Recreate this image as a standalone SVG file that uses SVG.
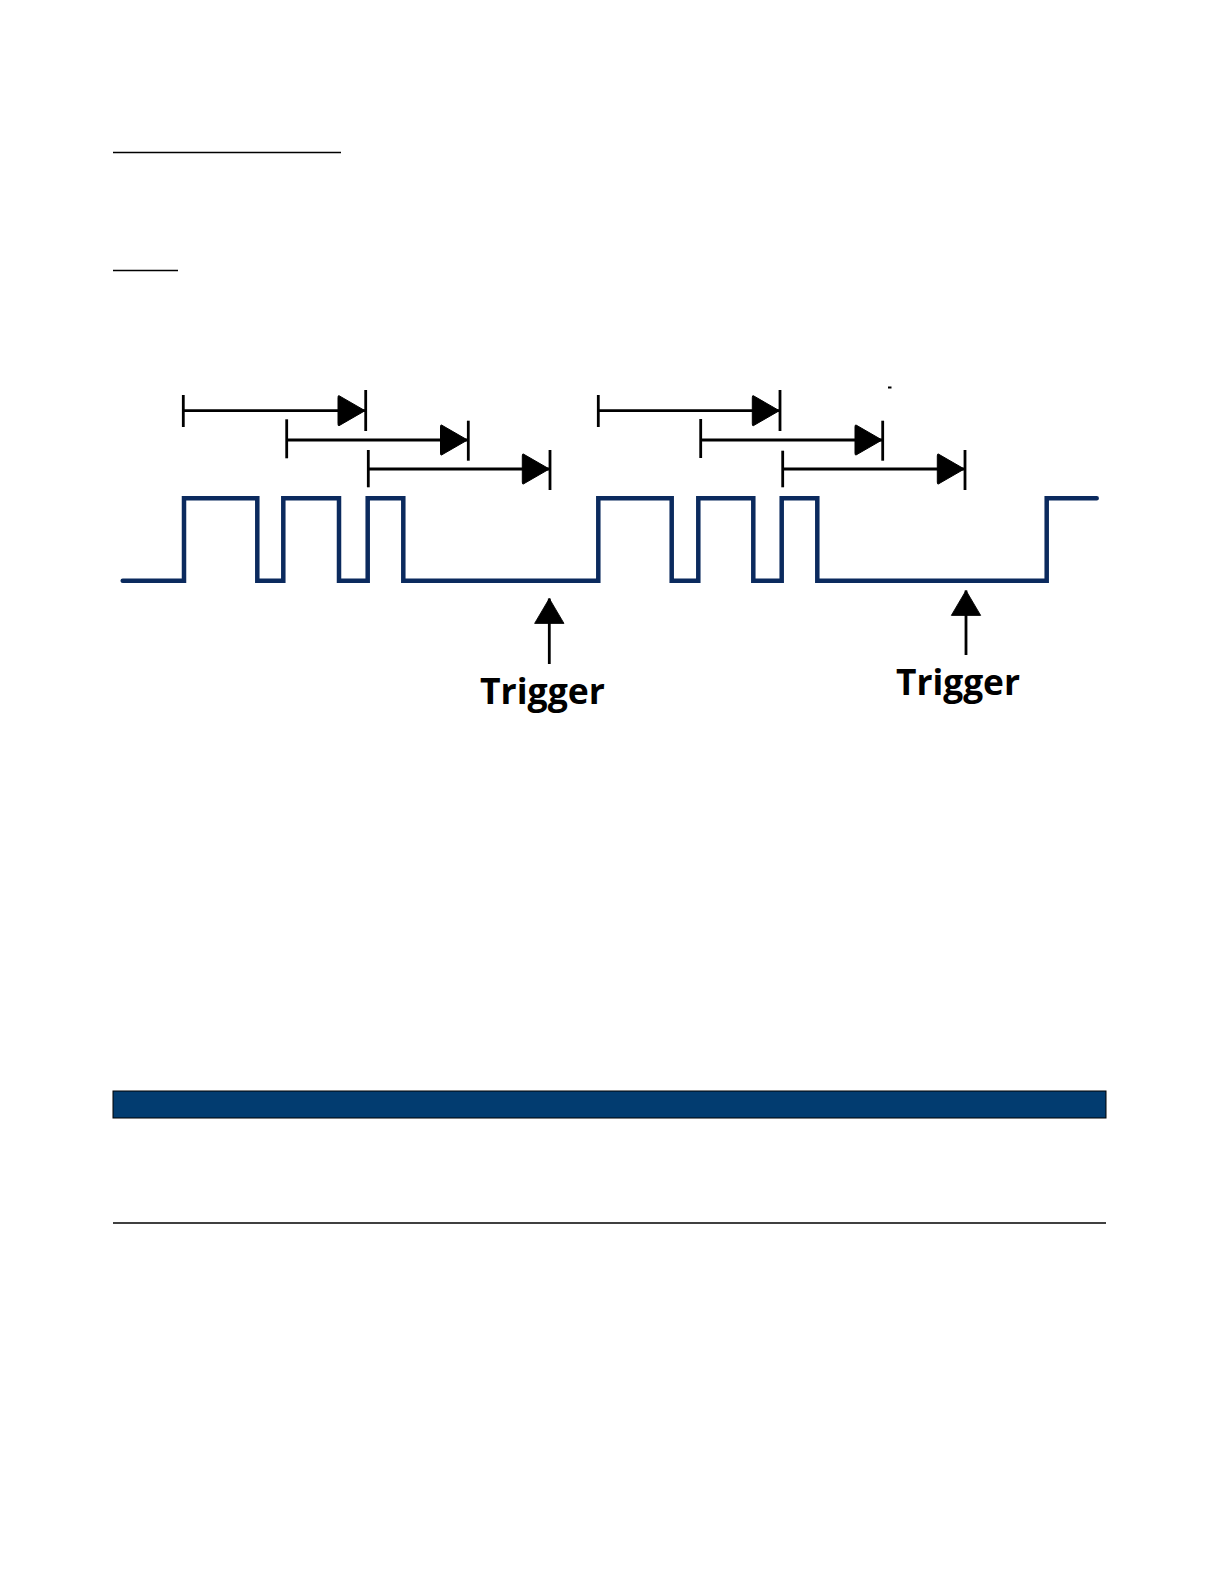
<svg xmlns="http://www.w3.org/2000/svg" width="1224" height="1584" viewBox="0 0 1224 1584">
  <style>
    .rule { stroke: #000; stroke-width: 1.5; fill: none; }
    .wave { stroke: #0b2a5e; stroke-width: 4.5; fill: none; stroke-linecap: round; stroke-linejoin: miter; }
    .span { stroke: #000; stroke-width: 2.8; fill: none; }
    .tick { stroke: #000; stroke-width: 2.8; }
    .shaft { stroke: #000; stroke-width: 2.8; fill: none; }
    .label { font-family: "Open Sans", "Liberation Sans", sans-serif; font-weight: bold; font-size: 36px; fill: #000; }
  </style>
  <defs>
    <marker id="tri" markerUnits="userSpaceOnUse" markerWidth="30" markerHeight="36" viewBox="-28 -17 30 34" refX="0" refY="0" orient="auto">
      <path d="M0,0 L-26,-15 Q-27,-15.5 -27,-13 L-27,13 Q-27,15.5 -26,15 Z" fill="#000" stroke="#000" stroke-width="1" stroke-linejoin="round"/>
    </marker>
    <marker id="up" markerUnits="userSpaceOnUse" markerWidth="36" markerHeight="32" viewBox="-30 -18 32 36" refX="0" refY="0" orient="auto">
      <path d="M0,0 L-28,-16.5 L-28,16.5 Z" fill="#000" stroke="#000" stroke-width="1" stroke-linejoin="round"/>
    </marker>
  </defs>

  <rect width="1224" height="1584" fill="#fff"/>

  <g id="page-rules">
    <line class="rule" x1="113" y1="152.5" x2="341" y2="152.5"/>
    <line class="rule" x1="113" y1="270.5" x2="178" y2="270.5"/>
    <rect x="113" y="1091" width="993" height="27" fill="#023c70" stroke="#000" stroke-width="1"/>
    <line class="rule" x1="113" y1="1223" x2="1106" y2="1223" stroke="#222"/>
  </g>

  <g id="waveform">
    <path class="wave" d="M122.7,580.7 H184 V498.3 H257.3 V580.7 H283.3 V498.3 H339 V580.7 H367.7 V498.3 H403.3 V580.7 H598.3 V498.3 H671.7 V580.7 H698.3 V498.3 H753.3 V580.7 H781.7 V498.3 H817.3 V580.7 H1046.7 V498.3 H1096.7"/>
  </g>

  <g id="connectors">
    <g id="span-1">
      <line class="tick" x1="183.3" y1="395" x2="183.3" y2="427"/>
      <line class="span" x1="183.3" y1="410.7" x2="365" y2="410.7" marker-end="url(#tri)"/>
      <line class="tick" x1="365.7" y1="390" x2="365.7" y2="431"/>
    </g>
    <g id="span-2">
      <line class="tick" x1="286.7" y1="419.3" x2="286.7" y2="458.3"/>
      <line class="span" x1="286.7" y1="440" x2="467.5" y2="440" marker-end="url(#tri)"/>
      <line class="tick" x1="468.3" y1="420.7" x2="468.3" y2="460.7"/>
    </g>
    <g id="span-3">
      <line class="tick" x1="368.3" y1="450" x2="368.3" y2="487.3"/>
      <line class="span" x1="368.3" y1="469" x2="549.3" y2="469" marker-end="url(#tri)"/>
      <line class="tick" x1="550" y1="450" x2="550" y2="490"/>
    </g>
    <g id="span-4">
      <line class="tick" x1="598.3" y1="395" x2="598.3" y2="427"/>
      <line class="span" x1="598.3" y1="410.7" x2="779.3" y2="410.7" marker-end="url(#tri)"/>
      <line class="tick" x1="780" y1="390" x2="780" y2="431"/>
    </g>
    <g id="span-5">
      <line class="tick" x1="700.7" y1="419" x2="700.7" y2="458"/>
      <line class="span" x1="700.7" y1="440" x2="882" y2="440" marker-end="url(#tri)"/>
      <line class="tick" x1="882.7" y1="420.7" x2="882.7" y2="460.7"/>
    </g>
    <g id="span-6">
      <line class="tick" x1="782.7" y1="450.7" x2="782.7" y2="487.3"/>
      <line class="span" x1="782.7" y1="469" x2="964.3" y2="469" marker-end="url(#tri)"/>
      <line class="tick" x1="965" y1="450" x2="965" y2="490"/>
    </g>
    <g id="trigger-arrow-1">
      <line class="shaft" x1="549.3" y1="664" x2="549.3" y2="598.5" marker-end="url(#up)"/>
    </g>
    <g id="trigger-arrow-2">
      <line class="shaft" x1="966" y1="655" x2="966" y2="590.5" marker-end="url(#up)"/>
    </g>
  </g>

  <rect x="888" y="386.5" width="3.5" height="2" fill="#000"/>

  <g id="trigger-label-1">
    <text class="label" x="480" y="703.5" textLength="125" lengthAdjust="spacingAndGlyphs">Trigger</text>
  </g>
  <g id="trigger-label-2">
    <text class="label" x="896" y="694.5" textLength="124" lengthAdjust="spacingAndGlyphs">Trigger</text>
  </g>
</svg>
